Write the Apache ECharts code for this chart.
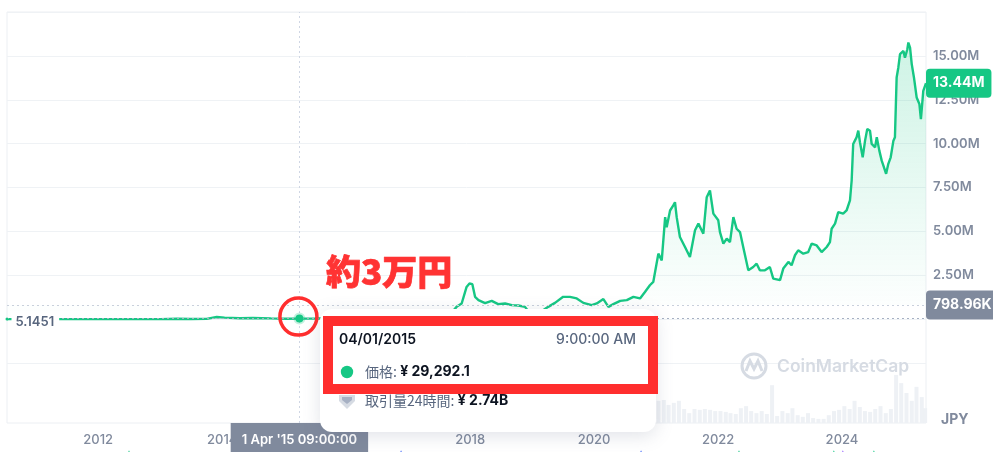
<!DOCTYPE html>
<html><head><meta charset="utf-8">
<script src="https://cdn.jsdelivr.net/npm/echarts@6/dist/echarts.min.js"></script>
<style>html,body{margin:0;padding:0;background:#fff}#c{width:993px;height:452px}</style>
</head><body><div id="c"></div>
<script>
// ---- data ----
const priceDates = [
 '2010-07-13','2010-10-01','2011-02-01','2011-06-08','2011-10-01','2012-03-01','2012-08-15','2013-01-01',
 '2013-04-09','2013-07-01','2013-10-01','2013-11-30','2014-01-15','2014-04-15','2014-07-01','2014-10-15',
 '2015-01-15','2015-04-01','2015-07-01','2015-11-04','2016-01-15','2016-06-15','2016-09-01','2016-12-31',
 '2017-03-01','2017-05-25','2017-07-15','2017-08-31','2017-09-15','2017-10-13','2017-11-12','2017-12-11',
 '2017-12-28','2018-01-14','2018-01-30','2018-02-19','2018-02-28','2018-03-30','2018-05-08','2018-06-15',
 '2018-07-26','2018-09-03','2018-10-12','2018-11-20','2018-12-15','2019-01-20','2019-02-24','2019-04-06',
 '2019-05-16','2019-07-03','2019-08-12','2019-09-21','2019-10-30','2019-12-18','2020-01-17','2020-02-25',
 '2020-03-26','2020-04-24','2020-06-03','2020-07-12','2020-08-20','2020-09-28','2020-10-27','2020-11-25',
 '2020-12-15','2021-01-14','2021-02-03','2021-02-23','2021-03-04','2021-03-24','2021-04-12','2021-04-22',
 '2021-05-02','2021-05-21','2021-06-20','2021-07-19','2021-08-18','2021-09-07','2021-10-06','2021-10-26',
 '2021-11-14','2021-12-04','2022-01-02','2022-01-12','2022-02-01','2022-02-21','2022-03-12','2022-04-01',
 '2022-04-20','2022-05-10','2022-05-29','2022-06-08','2022-06-28','2022-07-27','2022-08-16','2022-09-04',
 '2022-10-04','2022-11-02','2022-11-22','2023-01-01','2023-01-20','2023-02-19','2023-03-10','2023-03-30',
 '2023-04-18','2023-05-18','2023-06-16','2023-07-06','2023-08-05','2023-09-03','2023-10-03','2023-10-22',
 '2023-11-01','2023-11-21','2023-12-10','2024-01-08','2024-01-28','2024-02-17','2024-02-27','2024-03-07',
 '2024-03-17','2024-03-27','2024-04-06','2024-04-16','2024-05-02','2024-05-16','2024-05-29','2024-06-14',
 '2024-06-24','2024-07-14','2024-07-24','2024-08-08','2024-08-22','2024-09-01','2024-09-17','2024-09-30',
 '2024-10-14','2024-10-30','2024-11-08','2024-11-18','2024-11-28','2024-12-08','2024-12-28','2025-01-06',
 '2025-01-20','2025-01-26','2025-02-05','2025-02-15','2025-02-28','2025-03-16','2025-04-01','2025-04-10',
 '2025-04-24','2025-05-10'
];
const prices = [
 5.1451,5,80,2400,400,400,900,1150,
 21000,9000,13000,120000,85000,50000,65000,42000,
 25000,29292.1,32000,48000,45000,78000,60000,110000,
 140000,300000,220000,510000,380000,699000,892000,1835000,
 2030000,1990000,1270000,1080000,1190000,909000,1040000,852000,
 892000,795000,778000,699000,380000,390000,430000,699000,
 926000,1270000,1270000,1180000,926000,795000,892000,1140000,
 699000,852000,1040000,1080000,1270000,1180000,1550000,1930000,
 2120000,3730000,3350000,5810000,5240000,6190000,6480000,6660000,
 5810000,4680000,4110000,3540000,5060000,5440000,4870000,6950000,
 7330000,6010000,5630000,4960000,4300000,4590000,4390000,5810000,
 5150000,4960000,4110000,4020000,2780000,2970000,3160000,2780000,
 2780000,2970000,2310000,2220000,2880000,3260000,3070000,3640000,
 3920000,3730000,3820000,4300000,4200000,3820000,4110000,4390000,
 5150000,5440000,6100000,6010000,6190000,6760000,7900000,9980000,
 10170000,10360000,10740000,10070000,9220000,10170000,10840000,10740000,
 9980000,9790000,10360000,9600000,9030000,8750000,8280000,8850000,
 9220000,10170000,10360000,13770000,14340000,15100000,15280000,14900000,
 15380000,15760000,15470000,14530000,13770000,12630000,12260000,11400000,
 13010000,13440000
];
const volumeDates = [
 '2017-01-15','2017-02-15','2017-03-15','2017-04-15','2017-05-15','2017-06-15','2017-07-15','2017-08-15','2017-09-15','2017-10-15','2017-11-15','2017-12-15',
 '2018-01-15','2018-02-15','2018-03-15','2018-04-15','2018-05-15','2018-06-15','2018-07-15','2018-08-15','2018-09-15','2018-10-15','2018-11-15','2018-12-15',
 '2019-01-15','2019-02-15','2019-03-15','2019-04-15','2019-05-15','2019-06-15','2019-07-15','2019-08-15','2019-09-15','2019-10-15','2019-11-15','2019-12-15',
 '2020-01-15','2020-02-15','2020-03-15','2020-04-15','2020-05-15','2020-06-15','2020-07-15','2020-08-15','2020-09-15','2020-10-15','2020-11-15','2020-12-15',
 '2021-01-15','2021-02-15','2021-03-15','2021-04-15','2021-05-15','2021-06-15','2021-07-15','2021-08-15','2021-09-15','2021-10-15','2021-11-15','2021-12-15',
 '2022-01-15','2022-02-15','2022-03-15','2022-04-15','2022-05-15','2022-06-15','2022-07-15','2022-08-15','2022-09-15','2022-10-15','2022-11-15','2022-12-15',
 '2023-01-15','2023-02-15','2023-03-15','2023-04-15','2023-05-15','2023-06-15','2023-07-15','2023-08-15','2023-09-15','2023-10-15','2023-11-15','2023-12-15',
 '2024-01-15','2024-02-15','2024-03-15','2024-04-15','2024-05-15','2024-06-15','2024-07-15','2024-08-15','2024-09-15','2024-10-15','2024-11-15','2024-12-15',
 '2025-01-15','2025-02-15','2025-03-15','2025-04-15','2025-05-05'
];
const volumes = [ // trillion JPY (approx.)
 0.3,0.3,0.4,0.4,0.8,1.0,0.8,1.0,1.0,1.2,1.6,2.5,
 2.0,1.6,1.2,1.0,1.0,0.8,0.8,0.7,0.7,0.6,0.8,0.7,
 0.7,1.0,1.2,2.0,2.8,3.2,3.0,2.2,2.0,2.4,2.4,2.2,
 3.0,4.0,4.5,4.0,4.0,2.6,2.2,3.0,2.8,2.9,3.4,4.3,
 5.4,5.6,4.4,4.9,5.4,3.4,2.4,3.4,3.2,3.4,3.2,2.9,
 2.9,2.7,2.4,2.2,3.6,4.1,2.9,2.4,2.9,2.2,9.2,1.7,
 2.9,2.4,3.6,1.9,1.5,2.4,1.2,1.0,1.0,1.9,2.9,3.2,
 4.1,3.4,5.4,3.9,2.9,2.7,3.4,4.1,2.4,3.4,11.7,9.7,
 7.3,5.4,8.8,6.3,3.6
];
const xTickYears = [2012, 2014, 2016, 2018, 2020, 2022, 2024];
const eventDates = ['2012-07-01','2016-11-20','2020-10-04','2022-05-04','2023-11-14','2024-01-06','2024-07-07'];
const eventColors = ['#16c784','#3861fb','#3861fb','#16c784','#16c784','#8e59ff','#16c784'];
const hoverDate = '2015-04-01';
const hoverTime = '09:00:00';
const hoverPrice = 29292.1;
const hoverVolumeText = '¥ 2.74B';
const refPrice = 798960;
const firstPriceText = '5.1451';
const currency = 'JPY';
const annotationText = '約3万円';

// ---- chart ----
const P = s => { const a = s.split('-').map(Number); return new Date(a[0], (a[1] || 1) - 1, a[2] || 1).getTime(); };
const GREEN = '#16c784', GREY = '#808a9d', RED = '#ff2e2e';
const FONT = 'Inter, "Noto Sans CJK JP", sans-serif';
const JFONT = '"Noto Sans CJK JP", Inter, sans-serif';
const tMin = P(priceDates[0]), tMax = P(priceDates[priceDates.length - 1]);
const lastPrice = prices[prices.length - 1];
const priceData = priceDates.map((d, i) => [P(d), prices[i]]);
const volData = volumeDates.map((d, i) => [P(d), volumes[i]]);
const evData = eventDates.map((d, i) => ({ value: [P(d), -7.6], itemStyle: { color: eventColors[i] } }));
const [hy, hm, hd] = hoverDate.split('-');
const months = ['Jan','Feb','Mar','Apr','May','Jun','Jul','Aug','Sep','Oct','Nov','Dec'];
const hh = +hoverTime.slice(0, 2);
const timeText = ((hh % 12) || 12) + hoverTime.slice(2) + (hh < 12 ? ' AM' : ' PM');
const axisHoverText = (+hd) + ' ' + months[+hm - 1] + " '" + hy.slice(2) + ' ' + hoverTime;
const priceText = '¥ ' + hoverPrice.toLocaleString('en-US', { minimumFractionDigits: 1 });

const chart = echarts.init(document.getElementById('c'), null, { renderer: 'canvas' });
const option = {
  animation: false,
  textStyle: { fontFamily: FONT },
  grid: [
    { left: 7, right: 67, top: 12, bottom: 29, show: true, borderColor: '#eceff3', borderWidth: 1 },
    { left: 7, right: 67, top: 12, bottom: 89 }
  ],
  xAxis: [
    { type: 'value', gridIndex: 0, min: tMin, max: tMax, scale: true,
      axisLine: { show: false }, axisTick: { show: false }, splitLine: { show: false },
      axisLabel: { customValues: xTickYears.map(y => P(y + '-01-01')), formatter: v => String(new Date(v).getFullYear()),
        color: GREY, fontSize: 13, fontWeight: 500, margin: 11, fontFamily: FONT, hideOverlap: false } },
    { type: 'value', gridIndex: 1, min: tMin, max: tMax, scale: true, show: false }
  ],
  yAxis: [
    { type: 'value', gridIndex: 0, min: 0, max: 100, show: false },
    { type: 'value', gridIndex: 1, position: 'right', min: -2.5e6, max: 17.5e6, interval: 2.5e6,
      axisLine: { show: false }, axisTick: { show: false },
      splitLine: { lineStyle: { color: '#eff2f5', width: 1 } },
      axisLabel: { formatter: v => (v > 0 && v < 17.5e6) ? (v / 1e6).toFixed(2) + 'M' : '',
        color: GREY, fontSize: 13, fontWeight: 600, margin: 7, align: 'left', fontFamily: FONT } }
  ],
  series: [
    { type: 'bar', xAxisIndex: 0, yAxisIndex: 0, data: volData, barWidth: 4, silent: true,
      itemStyle: { color: '#eef1f5' },
      markLine: { symbol: 'none', silent: true, animation: false,
        lineStyle: { type: [2, 3], color: '#cfd6e4', width: 1 },
        data: [{ xAxis: P(hoverDate) }],
        label: { show: true, position: 'start', distance: 0, formatter: axisHoverText,
          backgroundColor: GREY, color: '#fff', fontSize: 13, fontWeight: 600, fontFamily: FONT,
          padding: [9, 11, 12, 11], lineHeight: 16 } } },
    { type: 'scatter', xAxisIndex: 0, yAxisIndex: 0, data: evData, symbol: 'triangle', symbolSize: 8,
      clip: false, silent: true },
    { type: 'line', xAxisIndex: 1, yAxisIndex: 1, data: priceData, showSymbol: false, smooth: false,
      lineStyle: { color: GREEN, width: 2.4 }, itemStyle: { color: GREEN }, z: 3,
      areaStyle: { origin: refPrice, color: new echarts.graphic.LinearGradient(0, 0, 0, 1, [
        { offset: 0, color: 'rgba(22,199,132,0.30)' }, { offset: 1, color: 'rgba(22,199,132,0.0)' }]) },
      markLine: { symbol: 'none', silent: true, animation: false,
        data: [
          { yAxis: refPrice, lineStyle: { type: [2, 3], color: '#c9d0dc', width: 1 },
            label: { show: true, position: 'end', distance: 0, formatter: (refPrice / 1e3).toFixed(2) + 'K',
              backgroundColor: GREY, color: '#fff', fontSize: 14, fontWeight: 700, fontFamily: FONT,
              padding: [7, 8, 7, 7], lineHeight: 15, borderRadius: 4 } },
          { yAxis: hoverPrice, lineStyle: { type: [2, 3], color: '#a6b0c3', width: 1 }, label: { show: false } },
          { yAxis: lastPrice, lineStyle: { color: 'rgba(0,0,0,0)', width: 0 },
            label: { show: true, position: 'end', distance: 0, formatter: (lastPrice / 1e6).toFixed(2) + 'M',
              backgroundColor: GREEN, color: '#fff', fontSize: 14, fontWeight: 700, fontFamily: FONT,
              padding: [7, 7, 7, 7], lineHeight: 15, borderRadius: 4 } }
        ] },
      markPoint: { silent: true, animation: false,
        data: [
          { coord: [tMin, prices[0]], symbol: 'circle', symbolSize: 3, itemStyle: { color: GREEN },
            label: { show: true, position: 'right', distance: 3, offset: [0, 3], formatter: firstPriceText,
              backgroundColor: '#fff', color: '#58667e', fontSize: 13, fontWeight: 600, fontFamily: FONT, padding: [2, 5, 2, 4] } },
          { coord: [P(hoverDate), hoverPrice], symbol: 'circle', symbolSize: 8,
            itemStyle: { color: GREEN, borderColor: 'rgba(22,199,132,0.25)', borderWidth: 4 }, label: { show: false } },
          { coord: [P(hoverDate), hoverPrice], symbol: 'circle', symbolSize: 37, symbolOffset: [-1, -2],
            itemStyle: { color: 'rgba(0,0,0,0)', borderColor: RED, borderWidth: 3.5 }, label: { show: false } }
        ] } }
  ],
  graphic: { elements: [
    { type: 'circle', z: 1, silent: true, shape: { cx: 754, cy: 366, r: 12 }, style: { fill: 'none', stroke: '#d6dbe3', lineWidth: 3 } },
    { type: 'polyline', z: 1, silent: true, shape: { points: [[746, 371], [750, 361], [754, 369], [758, 361], [762, 371]] }, style: { fill: 'none', stroke: '#d6dbe3', lineWidth: 3 } },
    { type: 'text', z: 1, silent: true, x: 777, y: 367, style: { text: 'CoinMarketCap', fill: '#d6dbe3', fontSize: 17.5, fontWeight: 600, fontFamily: FONT, verticalAlign: 'middle' } },
    { type: 'text', z: 1, silent: true, x: 941, y: 420, style: { text: currency, fill: GREY, fontSize: 14, fontWeight: 700, fontFamily: FONT, verticalAlign: 'middle' } },
    { type: 'rect', z: 100, silent: true, shape: { x: 320, y: 309, width: 336, height: 123, r: 12 },
      style: { fill: '#fff', shadowBlur: 18, shadowColor: 'rgba(88,102,126,0.18)', shadowOffsetY: 4 } },
    { type: 'text', z: 101, silent: true, x: 339, y: 340, style: { text: hm + '/' + hd + '/' + hy, fill: '#0d1421', fontSize: 14, fontWeight: 600, fontFamily: FONT, verticalAlign: 'middle' } },
    { type: 'text', z: 101, silent: true, x: 636, y: 340, style: { text: timeText, fill: '#58667e', fontSize: 14, fontWeight: 500, fontFamily: FONT, align: 'right', verticalAlign: 'middle' } },
    { type: 'circle', z: 101, silent: true, shape: { cx: 347, cy: 372, r: 6.2 }, style: { fill: GREEN } },
    { type: 'text', z: 101, silent: true, x: 365, y: 372, style: { text: '{a|価格:} {b|' + priceText + '}', verticalAlign: 'middle',
        rich: { a: { fill: '#58667e', fontSize: 14, fontFamily: JFONT }, b: { fill: '#0d1421', fontSize: 14, fontWeight: 700, fontFamily: FONT } } } },
    { type: 'polygon', z: 101, silent: true, shape: { points: [[339, 395], [355, 395], [355, 401], [347, 409], [339, 401]] }, style: { fill: '#d6dbe3' } },
    { type: 'polygon', z: 101, silent: true, shape: { points: [[342, 397], [352, 397], [352, 400], [347, 404], [342, 400]] }, style: { fill: '#a6b0c3' } },
    { type: 'text', z: 101, silent: true, x: 365, y: 401, style: { text: '{a|取引量24時間:} {b|' + hoverVolumeText + '}', verticalAlign: 'middle',
        rich: { a: { fill: '#58667e', fontSize: 14, fontFamily: JFONT }, b: { fill: '#0d1421', fontSize: 14, fontWeight: 700, fontFamily: FONT } } } },
    { type: 'rect', z: 110, silent: true, shape: { x: 328, y: 321, width: 325, height: 68 }, style: { fill: 'none', stroke: RED, lineWidth: 10 } },
    { type: 'text', z: 110, silent: true, x: 326, y: 272, style: { text: annotationText, fill: '#ff3333', stroke: '#ff3333', lineWidth: 0.7, fontSize: 35, fontWeight: 900, fontFamily: JFONT, verticalAlign: 'middle' } }
  ] }
};
chart.setOption(option);
</script>
</body></html>
